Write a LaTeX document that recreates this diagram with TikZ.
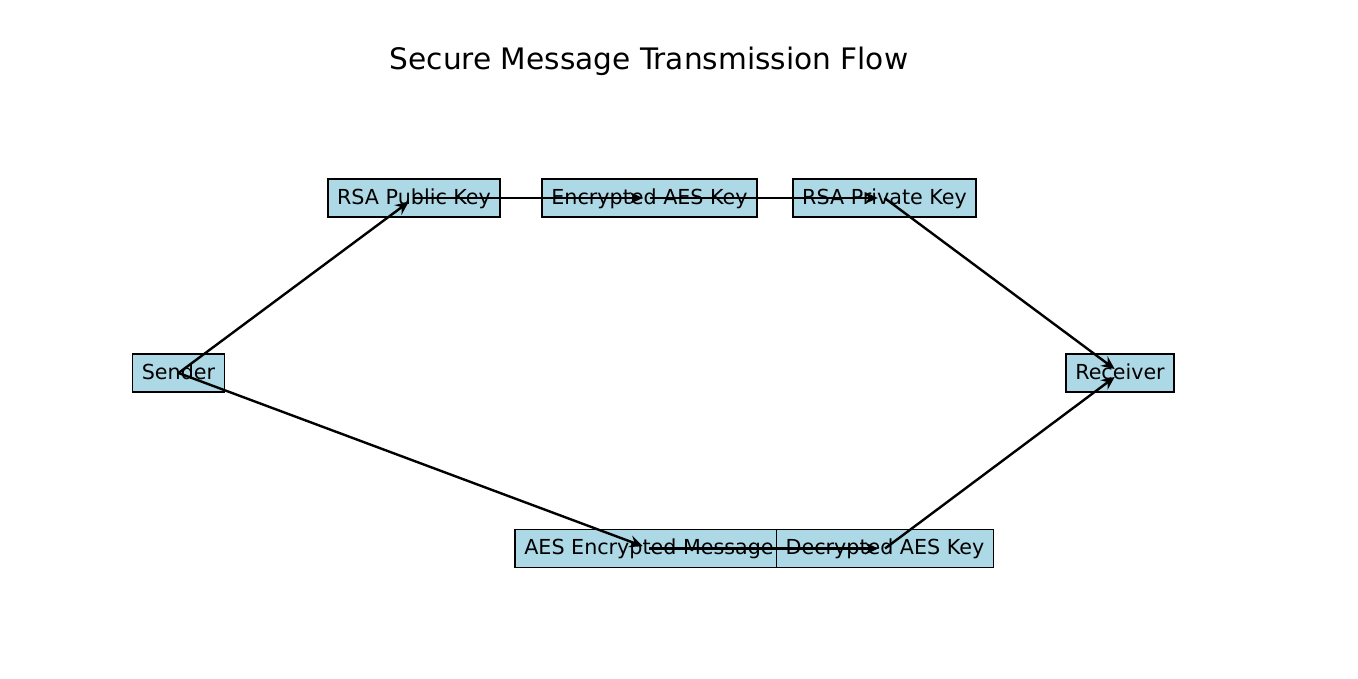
\documentclass[tikz,border=0pt]{standalone}
\usepackage{fontspec}
\setmainfont{DejaVu Sans}
\usetikzlibrary{arrows.meta}
\definecolor{boxblue}{RGB}{173,216,230}
\tikzset{
  box/.style={draw=black, line width=1.1pt, fill=boxblue, font=\fontsize{15.5pt}{18pt}\selectfont,
    inner xsep=7pt, inner ysep=0pt, minimum height=28.5pt, text height=0.95em, text depth=0.04em},
  edge/.style={draw=black, line width=1.8pt, -{Stealth[length=10pt,width=9pt,inset=3.5pt]}, shorten >=5pt},
  titletext/.style={font=\fontsize{22.2pt}{26pt}\selectfont, inner sep=0pt}
}
\begin{document}
\begin{tikzpicture}[x=0.75pt,y=-0.75pt]
\useasboundingbox (0,0) rectangle (1358,678);
\fill[white] (0,0) rectangle (1358,678);
\node[titletext, anchor=base] (title) at (649,69) {Secure Message Transmission Flow};
\node[box] (sender) at (178.5,373) {Sender};
\node[box] (rsapub) at (414,198) {RSA Public Key};
\node[box] (encaes) at (649.5,198) {Encrypted AES Key};
\node[box] (rsapriv) at (884.5,198) {RSA Private Key};
\node[box] (receiver) at (1120,373) {Receiver};
\node[box] (aesmsg) at (649,548.5) {AES Encrypted Message};
\node[box] (decaes) at (885,548.5) {Decrypted AES Key};
\draw[edge] (sender.center) -- (rsapub.center);
\draw[edge] (sender.center) -- (aesmsg.center);
\draw[edge] (rsapub.center) -- (encaes.center);
\draw[edge] (encaes.center) -- (rsapriv.center);
\draw[edge] (rsapriv.center) -- (receiver.center);
\draw[edge] (aesmsg.center) -- (decaes.center);
\draw[edge] (decaes.center) -- (receiver.center);
\end{tikzpicture}
\end{document}
